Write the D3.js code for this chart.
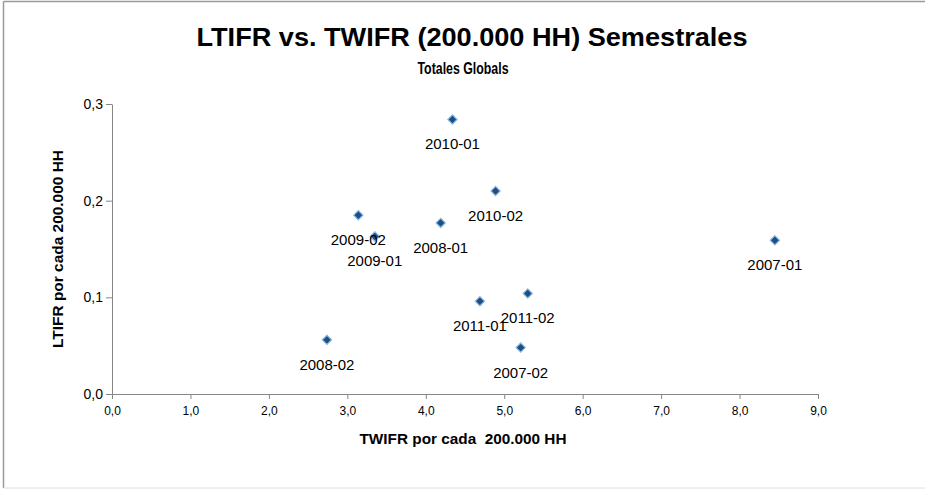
<!DOCTYPE html>
<html>
<head>
<meta charset="utf-8">
<script src="https://cdn.jsdelivr.net/npm/d3@7"></script>
<style>
  body { margin: 0; background: #fff; }
  text { font-family: "Liberation Sans", Arial, sans-serif; }
</style>
</head>
<body>
<div id="my_dataviz"></div>
<script>
// data
var periodos = ["2007-01", "2007-02", "2008-01", "2008-02", "2009-01", "2009-02", "2010-01", "2010-02", "2011-01", "2011-02"];
var twifr   = [8.45, 5.21, 4.19, 2.74, 3.35, 3.14, 4.34, 4.89, 4.69, 5.30];
var ltifr   = [0.159, 0.048, 0.177, 0.056, 0.163, 0.185, 0.284, 0.210, 0.096, 0.104];
var xTicks  = [0, 1, 2, 3, 4, 5, 6, 7, 8, 9];
var yTicks  = [0, 0.1, 0.2, 0.3];

var W = 925, H = 489;
var margin = {top: 104, right: 925 - 818, bottom: 489 - 394, left: 112},
    width = W - margin.left - margin.right,
    height = H - margin.top - margin.bottom;

var svgRoot = d3.select("#my_dataviz")
    .append("svg")
    .attr("width", W)
    .attr("height", H);

// outer chart border (left + top dark, bottom faint)
svgRoot.append("line")
    .attr("x1", 3.5).attr("y1", 1.5).attr("x2", W).attr("y2", 1.5)
    .attr("stroke", "#9a9a9a").attr("stroke-width", 1.5);
svgRoot.append("line")
    .attr("x1", 3.5).attr("y1", 1.5).attr("x2", 3.5).attr("y2", 488)
    .attr("stroke", "#9a9a9a").attr("stroke-width", 1.5);
svgRoot.append("line")
    .attr("x1", 3.5).attr("y1", 488).attr("x2", W).attr("y2", 488)
    .attr("stroke", "#e0e0e0").attr("stroke-width", 1);

// titles
svgRoot.append("text")
    .attr("x", 472).attr("y", 46)
    .attr("text-anchor", "middle")
    .attr("font-weight", "bold")
    .attr("font-size", 26)
    .attr("textLength", 551).attr("lengthAdjust", "spacingAndGlyphs")
    .text("LTIFR vs. TWIFR (200.000 HH) Semestrales");

svgRoot.append("text")
    .attr("x", 463).attr("y", 74)
    .attr("text-anchor", "middle")
    .attr("font-weight", "bold")
    .attr("font-size", 16)
    .attr("textLength", 91).attr("lengthAdjust", "spacingAndGlyphs")
    .text("Totales Globals");

var svg = svgRoot.append("g")
    .attr("transform", "translate(" + margin.left + "," + margin.top + ")");

var fmt = function(d) { return d.toFixed(1).replace(".", ","); };

// X axis
var x = d3.scaleLinear()
    .domain([0, 9])
    .range([0, width]);
var gx = svg.append("g")
    .attr("transform", "translate(0," + height + ")")
    .call(d3.axisBottom(x).tickValues(xTicks).tickFormat(fmt).tickSize(5).tickSizeOuter(0));

// Y axis
var y = d3.scaleLinear()
    .domain([0, 0.3])
    .range([height, 0]);
var gy = svg.append("g")
    .call(d3.axisLeft(y).tickValues(yTicks).tickFormat(fmt).tickSize(6).tickSizeOuter(0));

gx.selectAll("path, line").attr("stroke", "#868686");
gy.selectAll("path, line").attr("stroke", "#868686");
gx.selectAll("text")
    .attr("font-family", "Liberation Sans, Arial, sans-serif")
    .attr("font-size", 12)
    .attr("fill", "#000")
    .attr("y", 12);
gy.selectAll("text")
    .attr("font-family", "Liberation Sans, Arial, sans-serif")
    .attr("font-size", 14)
    .attr("fill", "#000")
    .attr("x", -9);

// axis titles
svg.append("text")
    .attr("x", 463 - margin.left).attr("y", height + 50)
    .attr("text-anchor", "middle")
    .attr("font-weight", "bold")
    .attr("font-size", 14)
    .attr("textLength", 207).attr("lengthAdjust", "spacingAndGlyphs")
    .attr("xml:space", "preserve")
    .text("TWIFR por cada  200.000 HH");

svg.append("text")
    .attr("transform", "translate(" + (63 - margin.left) + "," + (249 - margin.top) + ")rotate(-90)")
    .attr("text-anchor", "middle")
    .attr("font-weight", "bold")
    .attr("font-size", 14)
    .attr("textLength", 198).attr("lengthAdjust", "spacingAndGlyphs")
    .text("LTIFR por cada 200.000 HH");

var data = periodos.map(function(p, i) { return {p: p, x: twifr[i], y: ltifr[i]}; });

// markers
svg.selectAll("myPoint")
    .data(data)
    .enter()
    .append("path")
    .attr("d", d3.symbol().type(d3.symbolDiamond2).size(55))
    .attr("transform", function(d) { return "translate(" + x(d.x) + "," + y(d.y) + ")"; })
    .attr("fill", "#1f4e85")
    .attr("stroke", "#8dbbe0")
    .attr("stroke-width", 1.2);

// labels
svg.selectAll("myLabel")
    .data(data)
    .enter()
    .append("text")
    .attr("x", function(d) { return x(d.x); })
    .attr("y", function(d) { return y(d.y) + 30; })
    .attr("text-anchor", "middle")
    .attr("font-size", 15)
    .attr("fill", "#000")
    .text(function(d) { return d.p; });
</script>
</body>
</html>
